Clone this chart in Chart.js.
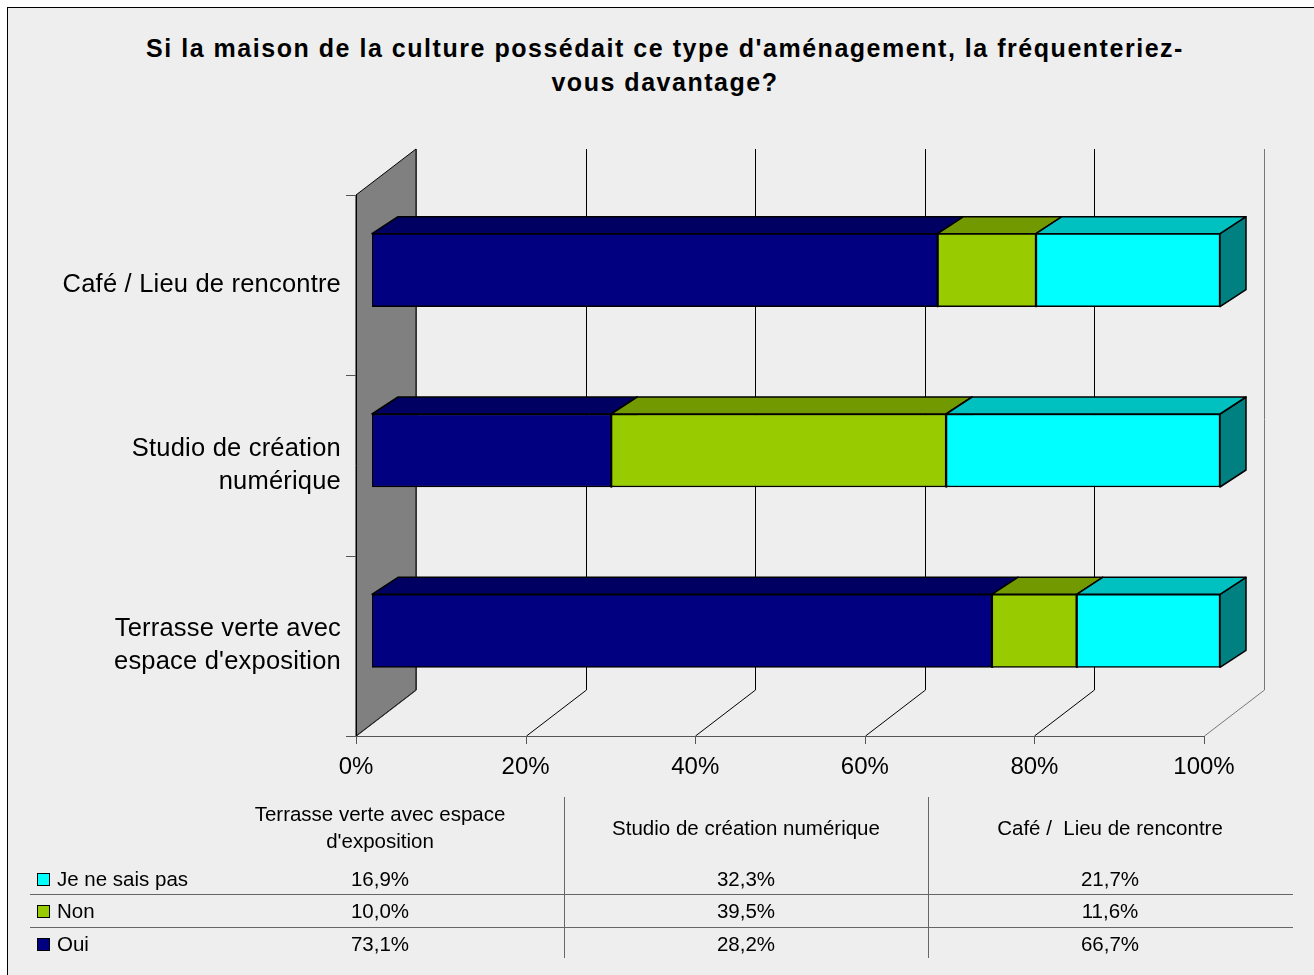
<!DOCTYPE html>
<html>
<head>
<meta charset="utf-8">
<script src="https://cdn.jsdelivr.net/npm/chart.js@4.4.0/dist/chart.umd.min.js"></script>
<style>
html, body { margin:0; padding:0; overflow:hidden; background:#fff; width:1314px; height:975px; }
#frame { position:absolute; left:7px; top:7px; width:1400px; height:1000px; background:#eeeeee; border:1px solid #000; }
#chart { position:absolute; left:0; top:0; }
#title { position:absolute; left:0; width:1330px; top:31px; text-align:center; font:bold 25px "Liberation Sans", Arial, sans-serif; line-height:34px; color:#000; white-space:nowrap; }
.txt { position:absolute; font:20.5px "Liberation Sans", Arial, sans-serif; color:#000; white-space:pre; }
.hdr { display:flex; align-items:center; justify-content:center; text-align:center; line-height:27px; }
.val { text-align:center; line-height:32px; height:32px; }
.lab { line-height:32px; height:32px; }
.sq { position:absolute; width:11px; height:11px; border:1px solid #000; }
.ln { position:absolute; background:#666; }
</style>
</head>
<body>
<div id="frame"></div>
<div id="title"></div>
<canvas id="chart" width="1314" height="975"></canvas>
<div id="table"></div>
<script>
// data, bars listed top to bottom
const titleLines = ["Si la maison de la culture possédait ce type d'aménagement, la fréquenteriez-", "vous davantage?"];
const categories = ['Café / Lieu de rencontre', 'Studio de création numérique', "Terrasse verte avec espace d'exposition"];
const catLines = [['Café / Lieu de rencontre'], ['Studio de création', 'numérique'], ['Terrasse verte avec', "espace d'exposition"]];
const oui = [66.7, 28.2, 73.1];
const non = [11.6, 39.5, 10.0];
const jnsp = [21.7, 32.3, 16.9];
const xTicks = [0, 20, 40, 60, 80, 100];
const xTickLabels = ['0%', '20%', '40%', '60%', '80%', '100%'];

const seriesNames = ['Oui', 'Non', 'Je ne sais pas'];
const frontCol = ['#000080', '#99CC00', '#00FFFF'];
const topCol = ['#000063', '#739900', '#00C0C0'];
const sideCol = ['#00004d', '#4d6600', '#008080'];

const FX = -16, FY = 15;   // front plane relative to bar front faces
const BX = 60, BY = -46;   // depth of the back wall
const DX = 26, DY = -17;   // depth of the bars

const FONT = '"Liberation Sans", Arial, sans-serif';

// title, letter spacing fitted to the original width
const title = document.getElementById('title');
const mctx = document.createElement('canvas').getContext('2d');
mctx.font = 'bold 25px ' + FONT;
var natural = mctx.measureText(titleLines[0]).width;
var spacing = (1038 - natural) / titleLines[0].length;
title.style.letterSpacing = spacing.toFixed(2) + 'px';
title.innerHTML = titleLines[0] + '<br>' + titleLines[1];

const threeD = {
    id: 'threeD',
    beforeDatasetsDraw(chart) {
        const ctx = chart.ctx;
        const xs = chart.scales.x;
        const a = chart.chartArea;
        const fl = a.left + FX, ft = a.top + FY, fb = a.bottom + FY;
        ctx.save();
        ctx.lineWidth = 1;
        // side wall
        ctx.beginPath();
        ctx.moveTo(fl, ft);
        ctx.lineTo(fl + BX, ft + BY);
        ctx.lineTo(fl + BX, fb + BY);
        ctx.lineTo(fl, fb);
        ctx.closePath();
        ctx.fillStyle = '#808080';
        ctx.fill();
        ctx.strokeStyle = '#000';
        ctx.stroke();
        // back gridlines and floor lines
        xTicks.forEach((v, i) => {
            const px = Math.round(xs.getPixelForValue(v) + FX) + 0.5;
            ctx.strokeStyle = i === xTicks.length - 1 ? '#777' : (i === 0 ? '#333' : '#000');
            ctx.beginPath();
            ctx.moveTo(px + BX, ft + BY);
            ctx.lineTo(px + BX, fb + BY);
            ctx.lineTo(px, fb);
            ctx.stroke();
            // tick below axis
            ctx.strokeStyle = '#555';
            ctx.beginPath();
            ctx.moveTo(px, fb);
            ctx.lineTo(px, fb + 8);
            ctx.stroke();
        });
        // front axis line
        ctx.strokeStyle = '#555';
        ctx.beginPath();
        ctx.moveTo(fl - 10, Math.round(fb) + 0.5);
        ctx.lineTo(xs.getPixelForValue(100) + FX, Math.round(fb) + 0.5);
        ctx.stroke();
        // category ticks on the front left edge
        for (let k = 0; k <= categories.length; k++) {
            const py = Math.round(ft + k * (fb - ft) / categories.length) + 0.5;
            ctx.beginPath();
            ctx.moveTo(fl - 10, py);
            ctx.lineTo(fl, py);
            ctx.stroke();
        }
        ctx.strokeStyle = '#000';
        ctx.beginPath();
        ctx.moveTo(fl + 0.5, ft);
        ctx.lineTo(fl + 0.5, fb);
        ctx.stroke();

        // bar sides first, then tops, the library draws the fronts over them
        ctx.lineWidth = 1.5;
        ctx.strokeStyle = '#000';
        ctx.lineJoin = 'round';
        const metas = chart.data.datasets.map((d, i) => chart.getDatasetMeta(i));
        metas.forEach((meta, di) => {
            meta.data.forEach(el => {
                const r = Math.max(el.x, el.base);
                const t = el.y - el.height / 2, b = el.y + el.height / 2;
                ctx.beginPath();
                ctx.moveTo(r, t);
                ctx.lineTo(r + DX, t + DY);
                ctx.lineTo(r + DX, b + DY);
                ctx.lineTo(r, b);
                ctx.closePath();
                ctx.fillStyle = sideCol[di];
                ctx.fill();
                ctx.stroke();
            });
        });
        metas.forEach((meta, di) => {
            meta.data.forEach(el => {
                const l = Math.min(el.x, el.base), r = Math.max(el.x, el.base);
                const t = el.y - el.height / 2;
                ctx.beginPath();
                ctx.moveTo(l, t);
                ctx.lineTo(l + DX, t + DY);
                ctx.lineTo(r + DX, t + DY);
                ctx.lineTo(r, t);
                ctx.closePath();
                ctx.fillStyle = topCol[di];
                ctx.fill();
                ctx.stroke();
            });
        });
        ctx.restore();
    },
    afterDraw(chart) {
        const ctx = chart.ctx;
        const xs = chart.scales.x, ys = chart.scales.y;
        const a = chart.chartArea;
        ctx.save();
        ctx.fillStyle = '#000';
        ctx.textBaseline = 'middle';
        // category labels
        ctx.font = '25.5px ' + FONT;
        ctx.letterSpacing = '0.2px';
        ctx.textAlign = 'right';
        catLines.forEach((lines, i) => {
            const cy = ys.getPixelForValue(i) + FY;
            lines.forEach((s, j) => {
                ctx.fillText(s, a.left + FX - 15, cy + (j - (lines.length - 1) / 2) * 33);
            });
        });
        // value axis labels
        ctx.letterSpacing = '0px';
        ctx.font = '24px ' + FONT;
        ctx.textAlign = 'center';
        xTicks.forEach((v, i) => {
            ctx.fillText(xTickLabels[i], xs.getPixelForValue(v) + FX, a.bottom + FY + 31);
        });
        ctx.restore();
    }
};

const series = [oui, non, jnsp];
new Chart(document.getElementById('chart'), {
    type: 'bar',
    data: {
        labels: categories,
        datasets: series.map((d, i) => ({
            label: seriesNames[i],
            data: d,
            backgroundColor: frontCol[i],
            borderColor: '#000',
            borderWidth: 1.5,
            borderSkipped: false,
            barThickness: 73
        }))
    },
    options: {
        indexAxis: 'y',
        animation: false,
        responsive: false,
        layout: { padding: { left: 372, right: 94, top: 180, bottom: 254 } },
        plugins: { legend: { display: false }, tooltip: { enabled: false } },
        scales: {
            x: { stacked: true, min: 0, max: 100, display: false },
            y: { stacked: true, display: false }
        }
    },
    plugins: [threeD]
});

// data table under the chart, columns in reverse order like the original
const table = document.getElementById('table');
const colX = [380, 746, 1110];
const rowY = [879, 911, 944];
const rowSeries = [2, 1, 0];
var html = '';
[564, 928].forEach(x => { html += `<div class="ln" style="left:${x}px;top:797px;width:1px;height:161px"></div>`; });
[894, 927].forEach(y => { html += `<div class="ln" style="left:30px;top:${y}px;width:1263px;height:1px"></div>`; });
const hdrLines = [['Terrasse verte avec espace', "d'exposition"], ['Studio de création numérique'], ['Café /  Lieu de rencontre']];
for (let c = 0; c < 3; c++) {
    const ci = categories.length - 1 - c;
    html += `<div class="txt hdr" style="left:${colX[c] - 180}px;width:360px;top:797px;height:60px">${hdrLines[c].join('\n')}</div>`;
    rowSeries.forEach((s, r) => {
        const v = series[s][ci].toFixed(1).replace('.', ',') + '%';
        html += `<div class="txt val" style="left:${colX[c] - 180}px;width:360px;top:${rowY[r] - 16}px">${v}</div>`;
    });
}
rowSeries.forEach((s, r) => {
    html += `<div class="sq" style="left:37px;top:${rowY[r] - 6}px;background:${frontCol[s]}"></div>`;
    html += `<div class="txt lab" style="left:57px;top:${rowY[r] - 16}px">${seriesNames[s]}</div>`;
});
table.innerHTML = html;
</script>
</body>
</html>
